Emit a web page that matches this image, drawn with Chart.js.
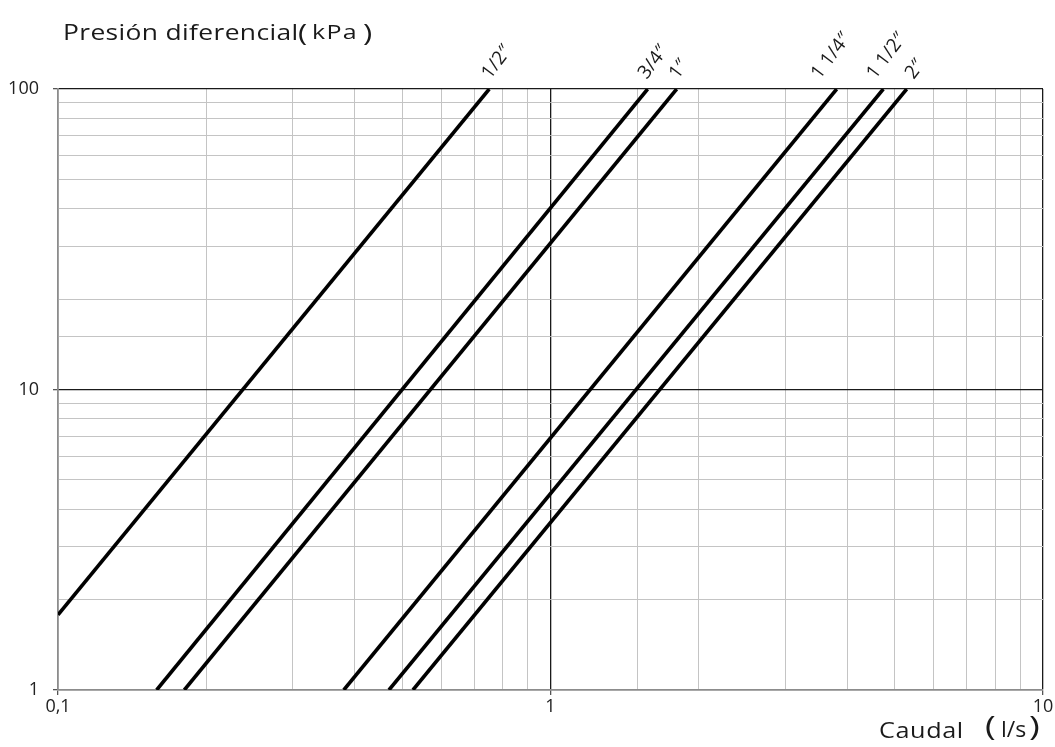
<!DOCTYPE html>
<html>
<head>
<meta charset="utf-8">
<script src="https://cdn.jsdelivr.net/npm/chart.js@4.4.1/dist/chart.umd.min.js"></script>
<style>
  html, body { margin: 0; padding: 0; background: #fff; }
  #wrap { position: relative; width: 1055px; height: 747px; font-family: "Open Sans", "Noto Sans", sans-serif; color: #1a1a1a; }
  canvas { position: absolute; left: 0; top: 0; }
  .t { position: absolute; white-space: nowrap; line-height: 1; transform-origin: 0 0; }
</style>
</head>
<body>
<div id="wrap">
  <canvas id="c" width="1055" height="747"></canvas>
  <!-- y axis title -->
  <div class="t" style="left:63px; top:20px; font-size:22px; letter-spacing:0.3px; transform:scaleX(1.2);">Presión diferencial</div>
  <div class="t" style="left:298px; top:20px; font-size:24px; transform:scaleX(1.3);">(</div>
  <div class="t" style="left:312px; top:22px; font-size:20px; letter-spacing:1px; transform:scaleX(1.25);">kPa</div>
  <div class="t" style="left:363px; top:20px; font-size:24px; transform:scaleX(1.3);">)</div>
  <!-- x axis title -->
  <div class="t" style="left:879px; top:720px; font-size:21px; letter-spacing:0.5px; transform:scaleX(1.2);">Caudal</div>
  <div class="t" style="left:985px; top:711px; font-size:28px; transform:scaleX(1.3);">(</div>
  <div class="t" style="left:1001px; top:719px; font-size:21px; transform:scaleX(1.1);">l/s</div>
  <div class="t" style="left:1029px; top:711px; font-size:28px; transform:scaleX(1.3);">)</div>
</div>
<script>
// ---- data (two end points per straight line, log-log) ----
const seriesNames   = ['1/2″', '3/4″', '1″', '1 1/4″', '1 1/2″', '2″'];
const flowStart     = [0.1,  0.1586, 0.1805, 0.3804, 0.4699, 0.5256];   // l/s
const pressureStart = [1.78, 1,      1,      1,      1,      1];        // kPa
const flowEnd       = [0.751, 1.575, 1.804, 3.812, 4.740, 5.288];       // l/s
const pressureEnd   = [100,  100,    100,    100,    100,    100];      // kPa

const xTickValues = [0.1, 1, 10];
const xTickTexts  = ['0,1', '1', '10'];
const yTickValues = [1, 10, 100];
const yTickTexts  = ['1', '10', '100'];

// label placement (style only)
const labelDx = [1, -1, 1, -17, -8, 7];

const datasets = seriesNames.map((name, i) => ({
  label: name,
  data: [{x: flowStart[i], y: pressureStart[i]}, {x: flowEnd[i], y: pressureEnd[i]}],
  showLine: true,
  borderColor: '#000',
  borderWidth: 3.6,
  pointRadius: 0,
  fill: false,
  borderCapStyle: 'butt'
}));

function isMajor(v) {
  const l = Math.log10(v);
  return Math.abs(l - Math.round(l)) < 1e-9;
}

const lineLabels = {
  id: 'lineLabels',
  afterDatasetsDraw(chart) {
    const ctx = chart.ctx;
    ctx.save();
    ctx.fillStyle = '#1a1a1a';
    ctx.font = '19px "Open Sans", "DejaVu Sans", sans-serif';
    ctx.textAlign = 'left';
    ctx.textBaseline = 'alphabetic';
    chart.data.datasets.forEach((ds, i) => {
      const meta = chart.getDatasetMeta(i);
      const p = meta.data[meta.data.length - 1];
      ctx.save();
      ctx.translate(p.x + labelDx[i], chart.chartArea.top - 9);
      ctx.rotate(-53 * Math.PI / 180);
      ctx.fillText(ds.label, 0, 0);
      ctx.restore();
    });
    ctx.restore();
  }
};

new Chart(document.getElementById('c'), {
  type: 'scatter',
  data: { datasets },
  plugins: [lineLabels],
  options: {
    responsive: false,
    animation: false,
    devicePixelRatio: 1,
    layout: { padding: { top: 89, right: 12, left: 0, bottom: 0 } },
    plugins: { legend: { display: false }, tooltip: { enabled: false } },
    scales: {
      x: {
        type: 'logarithmic',
        min: 0.1, max: 10,
        afterFit: s => { s.height = 57; },
        border: { display: true, color: '#8c8c8c', width: 1.5 },
        grid: {
          color: c => (c.tick && isMajor(c.tick.value)) ? '#1a1a1a' : '#c4c4c4',
          lineWidth: c => (c.tick && isMajor(c.tick.value)) ? 1.3 : 1,
          drawTicks: true,
          tickLength: 5,
          tickColor: c => (c.tick && isMajor(c.tick.value)) ? '#555' : 'rgba(0,0,0,0)'
        },
        ticks: {
          autoSkip: false,
          maxRotation: 0,
          padding: 1,
          color: '#222',
          font: { family: '"Open Sans", "Noto Sans", sans-serif', size: 18 },
          callback: v => { const k = xTickValues.findIndex(t => Math.abs(t - v) < 1e-9); return k >= 0 ? xTickTexts[k] : ''; }
        }
      },
      y: {
        type: 'logarithmic',
        min: 1, max: 100,
        afterFit: s => { s.width = 58; },
        border: { display: true, color: '#8c8c8c', width: 1.5 },
        grid: {
          color: c => (c.tick && isMajor(c.tick.value)) ? '#1a1a1a' : '#c4c4c4',
          lineWidth: c => (c.tick && isMajor(c.tick.value)) ? 1.3 : 1,
          drawTicks: true,
          tickLength: 5,
          tickColor: c => (c.tick && isMajor(c.tick.value)) ? '#555' : 'rgba(0,0,0,0)'
        },
        ticks: {
          autoSkip: false,
          padding: 14,
          color: '#222',
          font: { family: '"Open Sans", "Noto Sans", sans-serif', size: 18 },
          callback: v => { const k = yTickValues.findIndex(t => Math.abs(t - v) < 1e-9); return k >= 0 ? yTickTexts[k] : ''; }
        }
      }
    }
  }
});
</script>
</body>
</html>
